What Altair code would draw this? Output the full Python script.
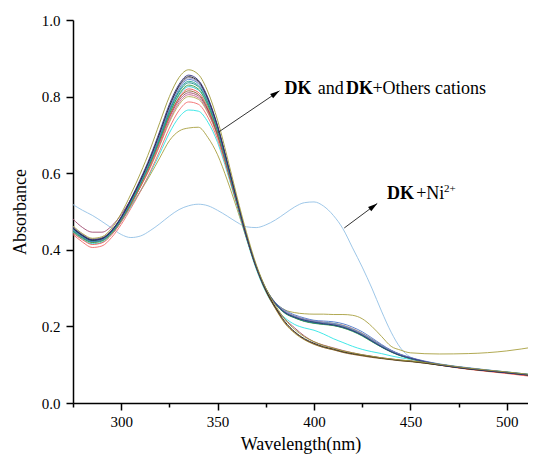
import altair as alt
import pandas as pd

# Wavelength grid (nm)
wavelength = [275, 280, 285, 290, 295, 300, 305, 310, 315, 320, 325, 330, 335, 340, 345, 350,
              355, 360, 365, 370, 375, 380, 385, 390, 395, 400, 405, 410, 415, 420, 425, 430, 435, 440, 445, 450,
              465, 480, 500, 515]

# Absorbance series
s_olive_top = [.462, .442, .430, .434, .456, .495, .545, .600, .662, .732, .800, .850, .870, .858, .812, .738,
               .642, .540, .445, .362, .300, .255, .218, .192, .173, .160, .150, .143, .136, .131, .126, .122, .118, .115, .112, .110,
               .101, .091, .081, .073]
s_navy = [.458, .438, .426, .430, .450, .486, .533, .585, .643, .710, .780, .832, .856, .843, .797, .724,
          .630, .532, .438, .358, .298, .260, .236, .224, .216, .211, .207, .204, .198, .189, .177, .162, .147, .134, .124, .117,
          .100, .090, .079, .071]
s_black = [.456, .437, .425, .429, .449, .484, .530, .581, .639, .705, .775, .828, .852, .840, .794, .722,
           .628, .530, .436, .356, .295, .250, .212, .186, .168, .156, .147, .141, .134, .129, .125, .121, .117, .114, .111, .109,
           .099, .089, .079, .071]
s_violet = [.460, .440, .428, .431, .451, .485, .531, .581, .638, .703, .772, .825, .849, .837, .791, .720,
            .627, .530, .437, .357, .297, .259, .238, .226, .219, .214, .210, .207, .201, .192, .180, .165, .150, .137, .126, .118,
            .101, .091, .080, .072]
s_blue = [.452, .434, .422, .426, .447, .481, .527, .577, .633, .698, .767, .820, .845, .834, .789, .718,
          .626, .529, .436, .357, .298, .262, .242, .230, .222, .216, .214, .212, .207, .198, .186, .170, .153, .138, .127, .119,
          .102, .092, .081, .073]
s_teal = [.450, .432, .421, .425, .445, .479, .524, .574, .630, .694, .763, .815, .840, .829, .785, .715,
          .623, .527, .434, .355, .296, .259, .237, .225, .217, .212, .209, .206, .200, .191, .179, .164, .149, .136, .125, .117,
          .101, .091, .080, .072]
s_darkcyan = [.455, .436, .424, .428, .448, .482, .527, .576, .631, .694, .761, .812, .836, .826, .783, .714,
              .623, .528, .436, .357, .297, .259, .235, .223, .214, .209, .206, .203, .197, .188, .176, .161, .146, .134, .124, .116,
              .100, .090, .080, .072]
s_green = [.448, .430, .419, .423, .443, .477, .521, .570, .625, .688, .755, .806, .830, .820, .778, .710,
           .620, .526, .434, .356, .297, .258, .234, .222, .213, .208, .205, .202, .196, .187, .175, .160, .146, .133, .123, .116,
           .100, .090, .079, .071]
s_cyan2 = [.453, .435, .423, .427, .447, .480, .524, .572, .626, .688, .754, .803, .826, .817, .776, .709,
           .620, .526, .435, .357, .298, .260, .238, .226, .218, .213, .210, .208, .202, .193, .181, .166, .150, .137, .126, .118,
           .101, .091, .080, .072]
s_red2 = [.444, .426, .414, .418, .439, .473, .517, .565, .619, .681, .747, .797, .820, .811, .771, .706,
          .618, .525, .434, .356, .297, .260, .239, .227, .219, .214, .211, .208, .203, .194, .182, .167, .151, .137, .126, .118,
          .100, .089, .078, .069]
s_brown = [.457, .438, .427, .431, .451, .484, .527, .574, .626, .686, .750, .795, .815, .806, .767, .702,
           .615, .523, .432, .353, .292, .247, .209, .184, .166, .154, .145, .139, .132, .127, .123, .119, .116, .113, .110, .108,
           .099, .089, .079, .071]
s_wine = [.480, .458, .446, .446, .462, .492, .532, .577, .627, .684, .745, .790, .810, .802, .764, .700,
          .614, .523, .433, .355, .294, .250, .219, .196, .175, .160, .151, .144, .137, .131, .126, .122, .118, .115, .112, .110,
          .100, .090, .080, .072]
s_pink = [.450, .432, .420, .424, .444, .477, .519, .565, .616, .675, .738, .784, .805, .797, .760, .698,
          .613, .522, .433, .356, .297, .259, .235, .223, .214, .209, .206, .203, .197, .189, .177, .162, .147, .134, .124, .116,
          .100, .090, .079, .071]
s_olive2 = [.452, .434, .422, .426, .446, .478, .519, .564, .614, .672, .733, .779, .800, .793, .757, .696,
            .612, .522, .433, .355, .294, .246, .207, .182, .165, .153, .145, .139, .133, .128, .124, .120, .117, .114, .111, .109,
            .099, .089, .079, .071]
s_red = [.440, .420, .406, .410, .432, .466, .508, .553, .603, .659, .718, .764, .786, .780, .746, .688,
         .607, .519, .431, .354, .296, .258, .236, .224, .215, .210, .207, .204, .198, .190, .178, .163, .148, .135, .124, .116,
         .099, .088, .077, .068]
s_cyan = [.446, .428, .416, .420, .441, .473, .512, .554, .600, .651, .705, .746, .765, .762, .733, .680,
          .602, .516, .428, .350, .290, .248, .222, .205, .196, .190, .180, .168, .158, .148, .140, .134, .129, .123, .118, .114,
          .101, .091, .081, .073]
s_olive_low = [.455, .436, .424, .428, .447, .478, .515, .553, .595, .640, .685, .710, .718, .720, .693, .648,
               .582, .508, .430, .358, .300, .262, .243, .236, .233, .232, .232, .231, .231, .229, .220, .200, .174, .148, .138, .131,
               .128, .129, .136, .147]
s_ni = [.518, .503, .490, .474, .457, .440, .432, .436, .450, .468, .488, .505, .515, .519, .515, .503,
        .488, .472, .460, .458, .465, .478, .495, .512, .523, .525, .514, .490, .455, .405, .355, .300, .240, .185, .143, .120,
        .100, .090, .080, .072]

series_names = ["ni", "olive_low", "cyan", "red", "olive2", "pink", "wine", "brown", "red2", "cyan2",
                "green", "darkcyan", "teal", "blue", "violet", "black", "navy", "olive_top"]
series_values = [s_ni, s_olive_low, s_cyan, s_red, s_olive2, s_pink, s_wine, s_brown, s_red2, s_cyan2,
                 s_green, s_darkcyan, s_teal, s_blue, s_violet, s_black, s_navy, s_olive_top]
series_colors = ["#93c1e6", "#a8a040", "#2ee6e6", "#f26a6a", "#b4ac50", "#c86088", "#a04a70", "#8b5a2b",
                 "#e8504a", "#30c0d0", "#3c9c3c", "#138a8a", "#20a090", "#4a78c8", "#8c7fb8", "#202020",
                 "#303080", "#a09a3a"]

# Annotations (data coordinates)
arrow_start_nm = [350.1, 415.7]
arrow_start_a = [0.706, 0.457]
arrow_tip_nm = [382.1, 432.8]
arrow_tip_a = [0.815, 0.521]
arrow_angle = [56, 53]

bold_parts = ["DK", "DK", "DK"]
bold_nm = [384.7, 416.6, 437.9]
bold_a = [0.808, 0.808, 0.533]

plain_parts = ["and", "+Others cations", "+Ni"]
plain_nm = [402.0, 430.3, 453.0]
plain_a = [0.808, 0.808, 0.533]

sup_parts = ["2+"]
sup_nm = [467.4]
sup_a = [0.550]

rows = []
for name, vals in zip(series_names, series_values):
    for w, v in zip(wavelength, vals):
        rows.append({"series": name, "wl": w, "abs": v})
df = pd.DataFrame(rows)

FONT = "Times New Roman, Liberation Serif, DejaVu Serif, serif"
xs = alt.Scale(domain=[275, 511], nice=False, zero=False)
ys = alt.Scale(domain=[0, 1], nice=False)

x_axis = alt.Axis(
    values=[275, 300, 325, 350, 375, 400, 425, 450, 475, 500],
    labelExpr="datum.value % 50 == 0 ? datum.label : ''",
    title="Wavelength(nm)", grid=False,
    tickSize={"condition": {"test": "datum.value % 50 == 0", "value": 7}, "value": 4},
    labelFont=FONT, labelFontSize=15, labelColor="black", labelPadding=4,
    titleFont=FONT, titleFontSize=18, titleFontWeight="normal", titleColor="black", titlePadding=6,
    domainColor="black", domainWidth=1.5, tickColor="black", tickWidth=1.5, labelFlush=False,
)
y_axis = alt.Axis(
    values=[0, 0.1, 0.2, 0.3, 0.4, 0.5, 0.6, 0.7, 0.8, 0.9, 1.0],
    labelExpr="round(datum.value * 10) % 2 == 0 ? format(datum.value, '.1f') : ''",
    title="Absorbance", grid=False,
    tickSize={"condition": {"test": "round(datum.value * 10) % 2 == 0", "value": 7}, "value": 4},
    labelFont=FONT, labelFontSize=15, labelColor="black", labelPadding=6,
    titleFont=FONT, titleFontSize=18, titleFontWeight="normal", titleColor="black", titlePadding=12,
    domainColor="black", domainWidth=1.5, tickColor="black", tickWidth=1.5, labelFlush=False,
)

lines = alt.Chart(df).mark_line(strokeWidth=1, opacity=0.9, interpolate="monotone", clip=True).encode(
    x=alt.X("wl:Q", scale=xs, axis=x_axis),
    y=alt.Y("abs:Q", scale=ys, axis=y_axis),
    color=alt.Color("series:N", scale=alt.Scale(domain=series_names, range=series_colors), legend=None),
    detail="series:N",
    order=alt.Order("wl:Q"),
)

arrows_df = pd.DataFrame({"x1": arrow_start_nm, "y1": arrow_start_a, "x2": arrow_tip_nm,
                          "y2": arrow_tip_a, "ang": arrow_angle})
arrow_lines = alt.Chart(arrows_df).mark_rule(color="#333333", strokeWidth=1).encode(
    x=alt.X("x1:Q", scale=xs), y=alt.Y("y1:Q", scale=ys), x2="x2:Q", y2="y2:Q")
arrow_heads = alt.Chart(arrows_df).mark_point(
    shape="M0,0L0.45,1.6L-0.45,1.6Z", filled=True, color="black", opacity=1, size=140
).encode(x=alt.X("x2:Q", scale=xs), y=alt.Y("y2:Q", scale=ys), angle=alt.Angle("ang:Q", scale=None))

bold_df = pd.DataFrame({"t": bold_parts, "x": bold_nm, "y": bold_a})
plain_df = pd.DataFrame({"t": plain_parts, "x": plain_nm, "y": plain_a})
sup_df = pd.DataFrame({"t": sup_parts, "x": sup_nm, "y": sup_a})

bold_text = alt.Chart(bold_df).mark_text(font=FONT, fontSize=18, fontWeight="bold", align="left",
                                         baseline="alphabetic", color="black").encode(
    x=alt.X("x:Q", scale=xs), y=alt.Y("y:Q", scale=ys), text="t:N")
plain_text = alt.Chart(plain_df).mark_text(font=FONT, fontSize=18, align="left",
                                           baseline="alphabetic", color="black").encode(
    x=alt.X("x:Q", scale=xs), y=alt.Y("y:Q", scale=ys), text="t:N")
sup_text = alt.Chart(sup_df).mark_text(font=FONT, fontSize=11, align="left",
                                       baseline="alphabetic", color="black").encode(
    x=alt.X("x:Q", scale=xs), y=alt.Y("y:Q", scale=ys), text="t:N")

chart = alt.layer(lines, arrow_lines, arrow_heads, bold_text, plain_text, sup_text).properties(
    width=455, height=383,
    padding={"left": 65, "top": 12, "right": 0, "bottom": 52},
    autosize=alt.AutoSizeParams(type="none"),
    background="white",
).configure(font=FONT).configure_axis(labelFont=FONT, titleFont=FONT).configure_view(stroke=None)

chart.save("out.html", embed_options={"renderer": "svg", "actions": False})
